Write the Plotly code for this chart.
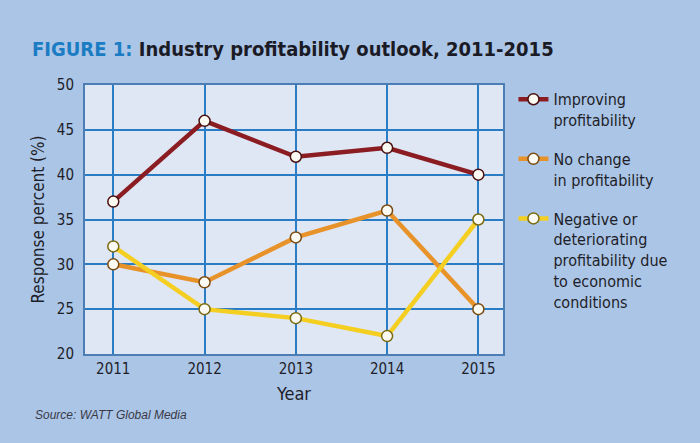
import plotly.graph_objects as go

years = [2011, 2012, 2013, 2014, 2015]
improving = [37, 46, 42, 43, 40]
no_change = [30, 28, 33, 36, 25]
negative = [32, 25, 24, 22, 35]

series_names = [
    "Improving<br>profitability",
    "No change<br>in profitability",
    "Negative or<br>deteriorating<br>profitability due<br>to economic<br>conditions",
]
series_colors = ["#8a1c22", "#e8922a", "#f4cf22"]
marker_edges = ["#4a1010", "#7a4a10", "#7a6a10"]

FONT = "Liberation Sans Narrow, DejaVu Sans Condensed, Arial Narrow, sans-serif"

fig = go.Figure()
for i, (name, vals) in enumerate(zip(series_names, [improving, no_change, negative])):
    fig.add_trace(go.Scatter(
        x=years, y=vals, name=name, mode="lines+markers",
        legendgroup=f"g{i}",
        line=dict(color=series_colors[i], width=4.5),
        marker=dict(size=11, color="#fbfaf2", line=dict(color=marker_edges[i], width=1.5)),
    ))

fig.update_layout(
    width=700, height=443,
    paper_bgcolor="#abc5e7",
    plot_bgcolor="#dfe6f4",
    margin=dict(l=85, r=197, t=85, b=89),
    font=dict(family=FONT, color="#1e1e28", size=16),
    title=dict(
        text="<span style='color:#1a7cc2'>FIGURE 1:</span> Industry profitability outlook, 2011-2015",
        x=32 / 700, xanchor="left", xref="container",
        y=1 - 49 / 443, yanchor="middle", yref="container",
        font=dict(family=FONT, size=20, color="#1b1b26", weight="bold"),
    ),
    legend=dict(
        x=1.025, xanchor="left", y=1.01, yanchor="top",
        bgcolor="rgba(0,0,0,0)", font=dict(size=16, color="#1e1e28"),
        valign="top", tracegroupgap=15, itemwidth=30, maxheight=1,
    ),
    showlegend=True,
)

fig.update_xaxes(
    range=[2010.69, 2015.27], tickvals=years, ticktext=[str(y) for y in years],
    showgrid=True, gridcolor="#2a7cc4", gridwidth=1.5,
    showline=True, linecolor="#4d7db5", linewidth=2, mirror=True,
    ticks="", tickfont=dict(size=15, color="#1e1e28"),
    title=dict(text="Year", font=dict(size=18, color="#1e1e28"), standoff=10),
    zeroline=False,
)
fig.update_yaxes(
    range=[20, 50], tickvals=[20, 25, 30, 35, 40, 45, 50],
    showgrid=True, gridcolor="#2a7cc4", gridwidth=1.5,
    showline=True, linecolor="#4d7db5", linewidth=2, mirror=True,
    ticks="", tickfont=dict(size=15, color="#1e1e28"), ticklabelstandoff=6,
    title=dict(text="Response percent (%)", font=dict(size=17, color="#1e1e28"), standoff=8),
    zeroline=False,
)

fig.add_annotation(
    text="<i>Source: WATT Global Media</i>", xref="paper", yref="paper",
    x=-52 / 418, y=-(415 - 354) / 269, xanchor="left", yanchor="middle",
    showarrow=False, font=dict(family="Liberation Sans, Arial, sans-serif", size=12, color="#3a3a48"),
)

fig.write_html("out.html", post_script="document.body.style.margin='0';",
               config={"displayModeBar": False})
